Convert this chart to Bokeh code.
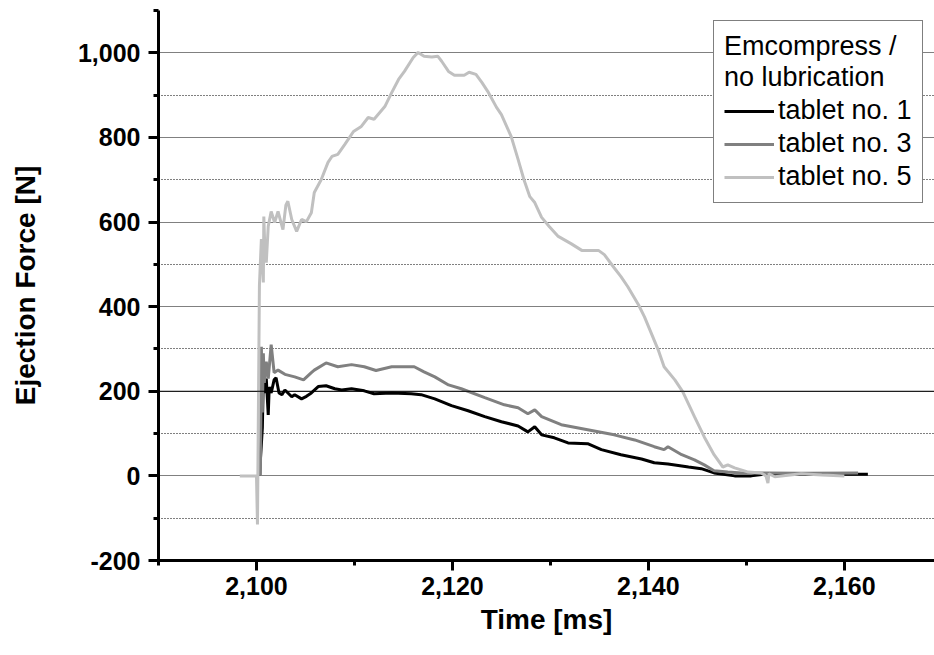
from bokeh.plotting import figure
from bokeh.models import (Legend, LegendItem, SingleIntervalTicker, NumeralTickFormatter,
                          Span, Range1d)
from bokeh.embed import file_html
from bokeh.resources import INLINE

# ---------------- data ----------------
t1_time = [2100.3, 2100.6, 2100.7, 2100.8, 2101.0, 2101.2, 2101.3, 2101.5, 2101.8, 2102.0,
           2102.3, 2102.6, 2102.9, 2103.6, 2103.9, 2104.6, 2105.1, 2105.6, 2106.3, 2107.1,
           2108.0, 2108.7, 2109.7, 2111.0, 2112.0, 2113.8, 2115.8, 2116.8, 2118.2, 2119.9,
           2121.6, 2123.3, 2125.0, 2126.7, 2127.7, 2128.4, 2129.1, 2130.4, 2131.8, 2133.8,
           2135.2, 2137.2, 2139.3, 2140.6, 2142.0, 2144.1, 2145.4, 2146.7, 2148.8, 2150.5,
           2152.2, 2155.6, 2162.4]
t1_force = [0, 114, 230, 196, 230, 144, 210, 196, 227, 232,
            196, 192, 203, 187, 192, 182, 188, 196, 211, 213,
            206, 203, 206, 201, 194, 196, 194, 192, 182, 166,
            154, 140, 128, 118, 104, 116, 97, 90, 78, 76,
            62, 50, 40, 31, 28, 21, 17, 7, 0, 0,
            5, 4, 4]

t3_time = [2100.4, 2100.5, 2100.6, 2100.7, 2100.8, 2101.0, 2101.2, 2101.5, 2101.8, 2102.2,
           2102.9, 2103.9, 2104.8, 2105.6, 2105.9, 2107.1, 2108.3, 2109.7, 2111.0, 2112.2,
           2113.8, 2116.1, 2117.1, 2118.2, 2119.6, 2120.9, 2123.3, 2125.3, 2126.7, 2127.7,
           2128.4, 2129.1, 2131.1, 2133.8, 2136.5, 2138.6, 2140.6, 2141.6, 2142.0, 2143.4,
           2144.7, 2145.7, 2146.7, 2148.1, 2149.5, 2152.2, 2155.6, 2161.4]
t3_force = [0, 305, 150, 290, 220, 270, 230, 310, 244, 250,
            240, 234, 227, 244, 250, 267, 258, 263, 258, 249,
            258, 258, 246, 234, 215, 206, 185, 168, 161, 147,
            156, 140, 121, 109, 97, 85, 69, 62, 69, 50,
            38, 26, 12, 9, 7, 7, 6, 7]

t5_time = [2098.3, 2100.0, 2100.1, 2100.3, 2100.5, 2100.7, 2100.75, 2100.85, 2101.0, 2101.2,
           2101.5, 2101.85, 2102.2, 2102.7, 2103.0, 2103.2, 2103.6, 2104.1, 2104.6, 2105.1,
           2105.6, 2105.9, 2106.6, 2107.3, 2107.7, 2108.3, 2109.0, 2109.5, 2109.9, 2110.7,
           2111.4, 2112.0, 2113.1, 2113.8, 2114.5, 2115.1, 2116.0, 2116.5, 2117.1, 2117.9,
           2118.5, 2118.9, 2119.6, 2120.2, 2121.2, 2121.7, 2122.4, 2123.0, 2123.6, 2124.5,
           2125.0, 2126.0, 2126.7, 2127.3, 2127.9, 2128.4, 2129.1, 2129.9, 2130.8, 2132.1,
           2133.2, 2134.9, 2135.5, 2136.5, 2137.2, 2137.9, 2139.0, 2139.6, 2141.0, 2141.6,
           2142.7, 2143.5, 2144.7, 2145.7, 2146.7, 2147.6, 2148.1, 2148.8, 2150.2, 2151.5,
           2152.0, 2152.2, 2152.3, 2152.9, 2155.6, 2157.7, 2160.0]
t5_force = [0, 0, -115, 450, 560, 457, 613, 540, 504, 590,
            625, 599, 625, 582, 640, 649, 606, 578, 606, 601,
            622, 670, 700, 741, 755, 760, 783, 800, 814, 826,
            847, 843, 873, 906, 937, 956, 989, 1001, 992, 990,
            992, 980, 956, 947, 947, 954, 949, 930, 909, 871,
            854, 802, 748, 700, 660, 646, 611, 589, 566, 549,
            533, 533, 523, 492, 471, 447, 404, 376, 298, 258,
            227, 199, 140, 92, 50, 21, 26, 19, 9, 7,
            0, -17, 5, -2, 5, 2, 0]

series_names = ["tablet no. 1", "tablet no. 3", "tablet no. 5"]
series_colors = ["#000000", "#808080", "#c0c0c0"]
legend_title = "Emcompress /\nno lubrication"
x_label = "Time [ms]"
y_label = "Ejection Force [N]"
x_start, x_end = 2090, 2169.2
y_start, y_end = -200, 1100
reference_level = 200

FONT = "Liberation Sans"

p = figure(width=934, height=655, output_backend="svg", toolbar_location=None,
           x_range=Range1d(x_start, x_end), y_range=Range1d(y_start, y_end),
           min_border_left=158, min_border_right=0, min_border_top=10, min_border_bottom=95)
p.outline_line_color = None
p.background_fill_color = "white"
p.border_fill_color = "white"

# grid
p.xgrid.visible = False
p.ygrid.grid_line_color = "#808080"
p.ygrid.grid_line_width = 1
p.ygrid.minor_grid_line_color = "#000000"
p.ygrid.minor_grid_line_dash = "1 2"
p.ygrid.minor_grid_line_width = 1

p.add_layout(Span(location=reference_level, dimension="width", line_color="black", line_width=1))

# axes
p.xaxis.ticker = SingleIntervalTicker(interval=20, num_minor_ticks=2)
p.yaxis.ticker = SingleIntervalTicker(interval=200, num_minor_ticks=2)
p.ygrid.ticker = p.yaxis.ticker
for ax in (p.xaxis, p.yaxis):
    ax.formatter = NumeralTickFormatter(format="0,0")
    ax.axis_line_width = 3
    ax.axis_line_color = "black"
    ax.major_tick_line_width = 3
    ax.minor_tick_line_width = 3
    ax.major_tick_out = 10
    ax.major_tick_in = 0
    ax.minor_tick_out = 5
    ax.minor_tick_in = 0
    ax.major_label_text_font = FONT
    ax.major_label_text_font_style = "bold"
    ax.major_label_text_font_size = "25px"
    ax.major_label_text_color = "black"
    ax.axis_label_text_font = FONT
    ax.axis_label_text_font_style = "bold"
    ax.axis_label_text_font_size = "28px"
    ax.axis_label_text_color = "black"
p.xaxis.axis_label = x_label
p.yaxis.axis_label = y_label
p.xaxis.major_label_standoff = 6
p.yaxis.major_label_standoff = 8
p.xaxis.axis_label_standoff = 6
p.yaxis.axis_label_standoff = 34

# lines
r1 = p.line(t1_time, t1_force, line_color=series_colors[0], line_width=3)
r3 = p.line(t3_time, t3_force, line_color=series_colors[1], line_width=3)
r5 = p.line(t5_time, t5_force, line_color=series_colors[2], line_width=3)

legend = Legend(items=[LegendItem(label=series_names[0], renderers=[r1]),
                       LegendItem(label=series_names[1], renderers=[r3]),
                       LegendItem(label=series_names[2], renderers=[r5])],
                location=(555, 357), title=legend_title)
legend.title_text_font = FONT
legend.title_text_font_style = "normal"
legend.title_text_font_size = "27px"
legend.title_text_color = "black"
legend.title_standoff = 2
legend.label_text_font = FONT
legend.label_text_font_size = "27px"
legend.label_text_color = "black"
legend.glyph_width = 50
legend.glyph_height = 26
legend.label_height = 26
legend.label_standoff = 4
legend.spacing = 2
legend.padding = 10
legend.margin = 0
legend.border_line_color = "black"
legend.border_line_width = 1
legend.background_fill_color = "white"
legend.background_fill_alpha = 1
p.add_layout(legend)

open("out.html", "w").write(file_html(p, INLINE))
